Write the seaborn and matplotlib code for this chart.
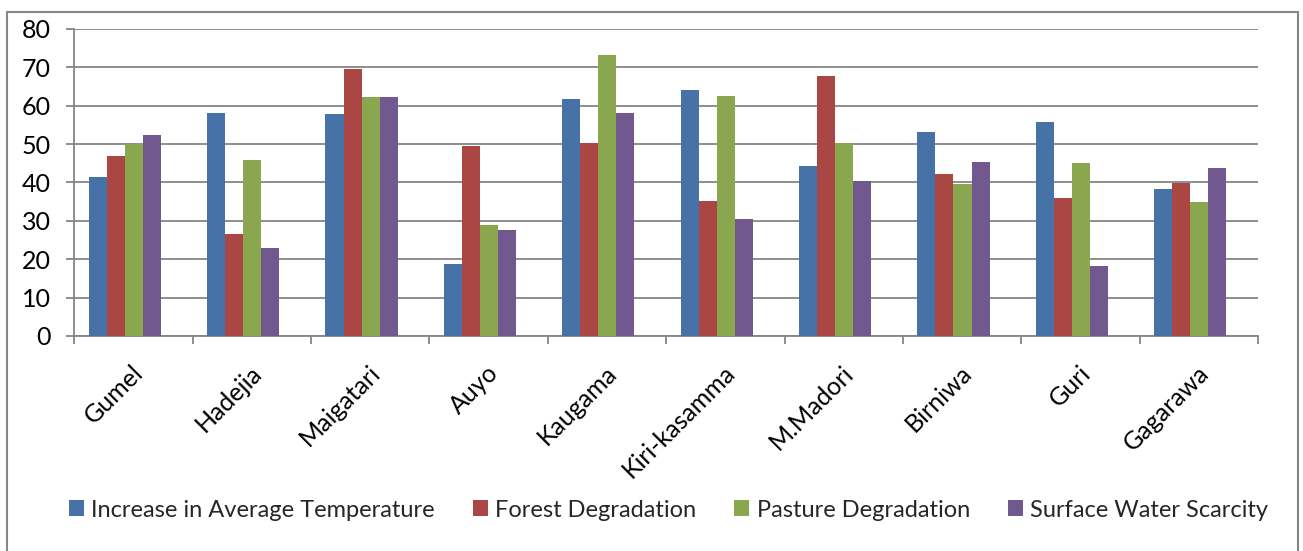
import matplotlib
matplotlib.use("Agg")
import matplotlib.pyplot as plt
from matplotlib.patches import Patch, Rectangle
import seaborn as sns
import pandas as pd

# Local government areas and the share of respondents per indicator
areas = ["Gumel", "Hadejia", "Maigatari", "Auyo", "Kaugama",
         "Kiri-kasamma", "M.Madori", "Birniwa", "Guri", "Gagarawa"]
series_names = ["Increase in Average Temperature", "Forest Degradation",
                "Pasture Degradation", "Surface Water Scarcity"]
temperature = [41.4, 58.2, 57.9, 18.8, 61.7, 64.1, 44.4, 53.2, 55.7, 38.2]
forest = [46.9, 26.5, 69.6, 49.5, 50.4, 35.1, 67.8, 42.3, 36.0, 39.9]
pasture = [50.1, 45.8, 62.2, 28.8, 73.2, 62.6, 50.4, 39.6, 45.0, 34.8]
water = [52.5, 23.0, 62.2, 27.5, 58.2, 30.4, 40.3, 45.4, 18.2, 43.8]
y_ticks = [0, 10, 20, 30, 40, 50, 60, 70, 80]

palette = ["#4672A8", "#AA4644", "#8AA64F", "#71588F"]
grey = "#868686"
fs = 18

rows = []
for name, vals in zip(series_names, [temperature, forest, pasture, water]):
    for area, v in zip(areas, vals):
        rows.append({"Area": area, "Indicator": name, "Value": v})
df = pd.DataFrame(rows)

sns.set_theme(style="white")
plt.rcParams["font.family"] = ["Lato", "DejaVu Sans"]

fig = plt.figure(figsize=(13.03, 5.51), dpi=100)
ax = fig.add_axes([0.0570, 0.3902, 0.9085, 0.5572])

sns.barplot(data=df, x="Area", y="Value", hue="Indicator", order=areas,
            hue_order=series_names, palette=palette, width=0.61,
            linewidth=0, saturation=1, legend=False, ax=ax, zorder=3)

shift = 0.073
ax.set_xlim(-0.5 + shift, len(areas) - 0.5 + shift)
ax.set_ylim(0, 80)
ax.set_yticks(y_ticks)
ax.set_yticklabels([str(t) for t in y_ticks], fontsize=fs, color="black")
ax.yaxis.grid(True, color=grey, linewidth=1.3, zorder=0)
ax.set_axisbelow(True)
ax.tick_params(axis="y", direction="out", length=6, width=1.3, color=grey, pad=11, left=True)

# category boundaries carry the tick marks; labels sit at group centres
ax.set_xticks([i + shift + 0.05 for i in range(len(areas))])
ax.set_xticklabels(areas, rotation=45, ha="right", va="center",
                   rotation_mode="anchor", fontsize=fs, color="black")
ax.tick_params(axis="x", which="major", length=0, pad=24)
ax.set_xticks([i - 0.5 + shift for i in range(len(areas) + 1)], minor=True)
ax.tick_params(axis="x", which="minor", direction="out", length=6, width=1.3,
               color=grey, bottom=True)

for side in ["top", "right"]:
    ax.spines[side].set_visible(False)
for side in ["left", "bottom"]:
    ax.spines[side].set_color(grey)
    ax.spines[side].set_linewidth(1.3)
ax.set_xlabel("")
ax.set_ylabel("")

handles = [Patch(facecolor=c, edgecolor="none", label=n) for c, n in zip(palette, series_names)]
fig.legend(handles=handles, loc="center", bbox_to_anchor=(0.513, 0.0744), ncol=4,
           frameon=False, fontsize=17, handlelength=0.65, handleheight=0.65,
           handletextpad=0.3, columnspacing=1.6, borderpad=0)

fig.patches.append(Rectangle((6.5 / 1303, -0.05), (1298 - 6.5) / 1303, 1.05 - 12 / 551,
                             transform=fig.transFigure, fill=False,
                             edgecolor=grey, linewidth=1.5, zorder=0))

fig.savefig("out.png", dpi=100)
